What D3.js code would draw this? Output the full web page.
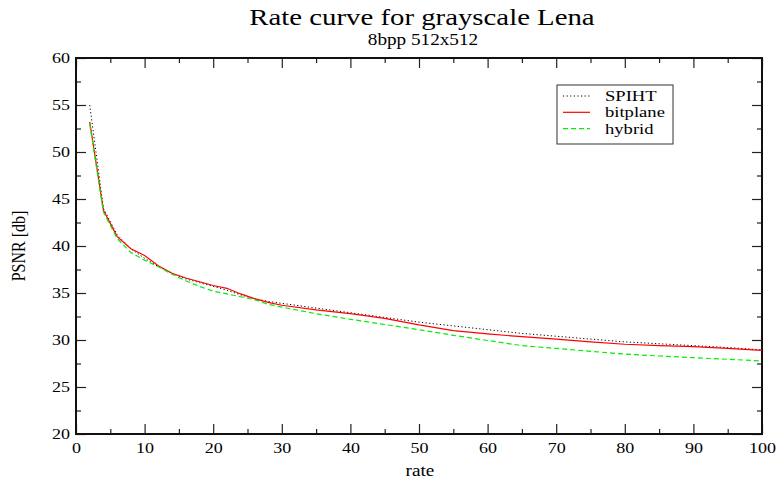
<html>
<script src='https://d3js.org/d3.v7.min.js'></script>
<head>
    <meta charset="UTF-8">
    <style>
        body {
            margin: 0;
            background-color: white;
        }
    </style>
</head>
<body>
<svg width=778 height=486 font-family="Liberation Serif">
</svg>
</body>
<script>
    // values
    const rates = [2, 4, 6, 8, 10, 12, 14, 16, 18, 20, 22, 24, 26, 28, 30, 35, 40, 45, 50, 55, 60, 65, 70, 75, 80, 85, 90, 95, 100];
    const spiht = [55.0, 44.0, 41.2, 39.7, 38.7, 37.8, 37.1, 36.5, 36.1, 35.7, 35.3, 34.8, 34.4, 34.1, 33.9, 33.4, 32.9, 32.4, 31.9, 31.5, 31.1, 30.7, 30.4, 30.1, 29.8, 29.6, 29.4, 29.2, 28.95];
    const bitplane = [53.2, 43.8, 41.0, 39.7, 39.0, 37.9, 37.1, 36.6, 36.2, 35.8, 35.5, 34.9, 34.4, 34.0, 33.7, 33.2, 32.8, 32.3, 31.6, 31.0, 30.65, 30.35, 30.1, 29.8, 29.55, 29.4, 29.3, 29.1, 28.9];
    const hybrid = [53.0, 43.6, 40.8, 39.3, 38.5, 37.8, 37.0, 36.3, 35.7, 35.2, 34.9, 34.6, 34.3, 33.8, 33.5, 32.8, 32.2, 31.65, 31.1, 30.5, 29.95, 29.4, 29.1, 28.8, 28.5, 28.3, 28.12, 27.95, 27.77];
    const seriesNames = ["SPIHT", "bitplane", "hybrid"];

    const xMajor = [0, 10, 20, 30, 40, 50, 60, 70, 80, 90, 100];
    const xMinor = [5, 15, 25, 35, 45, 55, 65, 75, 85, 95];
    const yMajor = [20, 25, 30, 35, 40, 45, 50, 55, 60];
    const yMinor = [22.5, 27.5, 32.5, 37.5, 42.5, 47.5, 52.5, 57.5];

    const margin = {top: 58, right: 16, bottom: 52, left: 76},
          width = 778 - margin.left - margin.right,
          height = 486 - margin.top - margin.bottom;
    const stretch = 1.2; // the picture's text is wider than it is tall

    const svg = d3.select("svg");
    const g = svg.append("g")
                 .attr("transform", `translate(${margin.left},${margin.top})`);

    const x = d3.scaleLinear().domain([0, 100]).range([0, width]);
    const y = d3.scaleLinear().domain([20, 60]).range([height, 0]);

    function styleAxis(sel) {
        sel.attr("font-family", "Liberation Serif");
        sel.select(".domain").remove();
        sel.selectAll(".tick line").attr("stroke", "#222").attr("stroke-width", 1.2);
        sel.selectAll("text").style("font-size", "15px");
    }

    // bottom
    g.append("g")
        .attr("transform", `translate(0,${height})`)
        .call(d3.axisBottom(x).tickValues(xMajor).tickSize(-10).tickPadding(8).tickFormat(d3.format("d")))
        .call(styleAxis)
        .selectAll("text").attr("transform", `scale(${stretch},1)`);
    g.append("g")
        .attr("transform", `translate(0,${height})`)
        .call(d3.axisBottom(x).tickValues(xMinor).tickSize(-5).tickFormat(""))
        .call(styleAxis);
    // top
    g.append("g")
        .call(d3.axisTop(x).tickValues(xMajor).tickSize(-10).tickFormat(""))
        .call(styleAxis);
    g.append("g")
        .call(d3.axisTop(x).tickValues(xMinor).tickSize(-5).tickFormat(""))
        .call(styleAxis);
    // left
    g.append("g")
        .call(d3.axisLeft(y).tickValues(yMajor).tickSize(-10).tickPadding(5).tickFormat(d3.format("d")))
        .call(styleAxis)
        .selectAll("text").attr("transform", `scale(${stretch},1)`);
    g.append("g")
        .call(d3.axisLeft(y).tickValues(yMinor).tickSize(-5).tickFormat(""))
        .call(styleAxis);
    // right
    g.append("g")
        .attr("transform", `translate(${width},0)`)
        .call(d3.axisRight(y).tickValues(yMajor).tickSize(-10).tickFormat(""))
        .call(styleAxis);
    g.append("g")
        .attr("transform", `translate(${width},0)`)
        .call(d3.axisRight(y).tickValues(yMinor).tickSize(-5).tickFormat(""))
        .call(styleAxis);

    // frame
    g.append("rect")
        .attr("x", 0).attr("y", 0)
        .attr("width", width).attr("height", height)
        .attr("fill", "none")
        .attr("stroke", "#111")
        .attr("stroke-width", 2);

    const styles = [
        {color: "#000000", dash: "1.2,2.4", w: 1},
        {color: "#ff0000", dash: null, w: 1.2},
        {color: "#00ee00", dash: "5,3", w: 1.2}
    ];
    const allSeries = [spiht, bitplane, hybrid];

    const line = d3.line()
                   .x(d => x(d[0]))
                   .y(d => y(d[1]));

    allSeries.forEach((vals, i) => {
        g.append("path")
            .datum(rates.map((r, j) => [r, vals[j]]))
            .attr("d", line)
            .attr("fill", "none")
            .attr("stroke", styles[i].color)
            .attr("stroke-width", styles[i].w)
            .attr("stroke-dasharray", styles[i].dash);
    });

    // legend
    const legend = svg.append("g").attr("transform", "translate(557,85)");
    legend.append("rect")
        .attr("width", 116).attr("height", 59)
        .attr("fill", "white")
        .attr("stroke", "#333")
        .attr("stroke-width", 1);
    seriesNames.forEach((name, i) => {
        const ly = 11 + i * 16.3;
        legend.append("line")
            .attr("x1", 6).attr("x2", 33)
            .attr("y1", ly).attr("y2", ly)
            .attr("stroke", styles[i].color)
            .attr("stroke-width", styles[i].w)
            .attr("stroke-dasharray", styles[i].dash);
        legend.append("text")
            .attr("transform", `translate(48,${ly + 5}) scale(${stretch},1)`)
            .style("font-size", "15.5px")
            .text(name);
    });

    // titles
    svg.append("text")
        .attr("transform", `translate(422,25) scale(${stretch},1)`)
        .style("text-anchor", "middle")
        .style("font-size", "24px")
        .text("Rate curve for grayscale Lena");
    svg.append("text")
        .attr("transform", `translate(423,45) scale(${stretch},1)`)
        .style("text-anchor", "middle")
        .style("font-size", "16px")
        .text("8bpp 512x512");
    svg.append("text")
        .attr("transform", `translate(420,476) scale(${stretch},1)`)
        .style("text-anchor", "middle")
        .style("font-size", "16px")
        .text("rate");
    svg.append("text")
        .attr("transform", `translate(25,246) scale(${stretch},1) rotate(-90)`)
        .style("text-anchor", "middle")
        .style("font-size", "16px")
        .text("PSNR [db]");
</script>
</html>
